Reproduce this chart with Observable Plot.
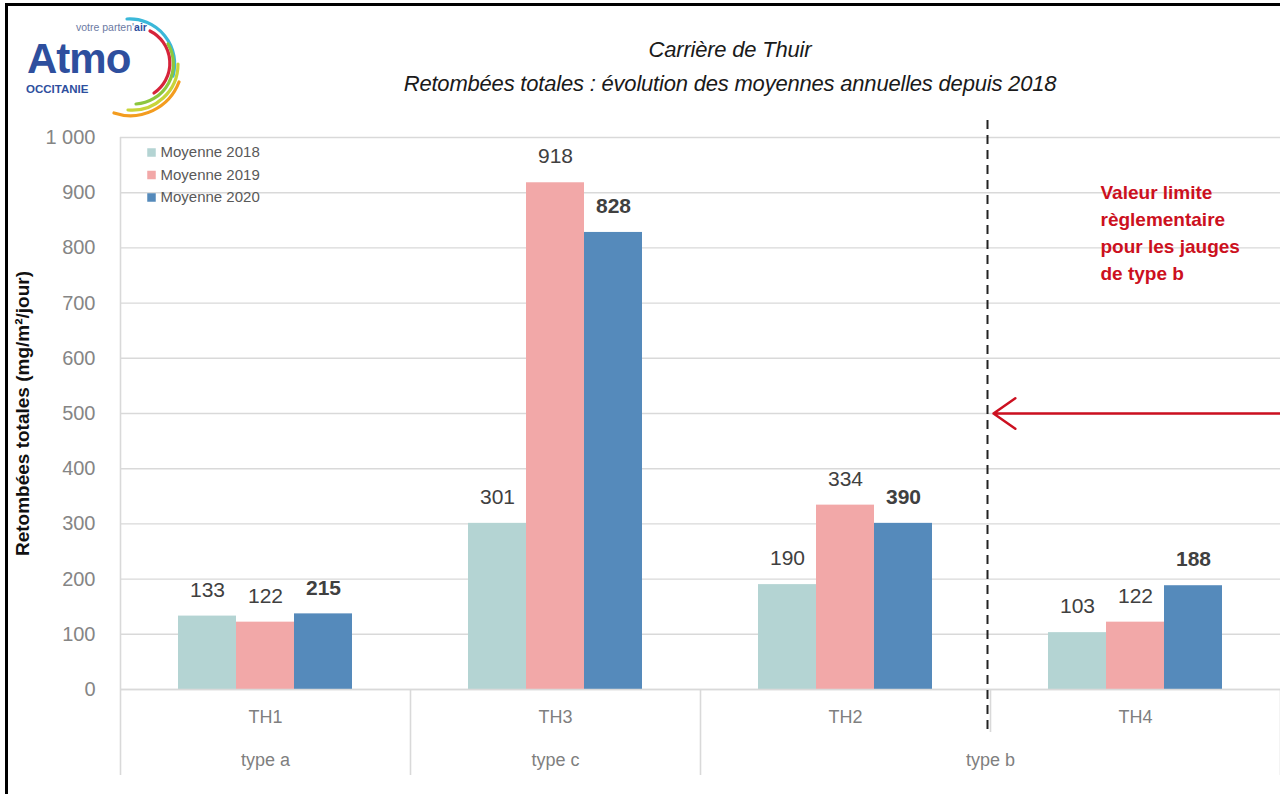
<!DOCTYPE html>
<html>
<head>
<meta charset="utf-8">
<script src="https://cdn.jsdelivr.net/npm/d3@7"></script>
<script src="https://cdn.jsdelivr.net/npm/@observablehq/plot@0.6"></script>
<style>
  html, body { margin: 0; padding: 0; background: #fff; }
  body { font-family: "Liberation Sans", Arial, sans-serif; }
  #page { position: relative; width: 1280px; height: 794px; overflow: hidden; background: #fff; }
  #border { position: absolute; left: 5px; top: 3px; width: 1300px; height: 820px;
            border-top: 3px solid #000; border-left: 3px solid #000; pointer-events: none; z-index: 5; }
  #logo { position: absolute; left: 0; top: 0; }
  #title { position: absolute; left: 190px; width: 1080px; top: 33px; text-align: center;
           font-style: italic; font-size: 22px; line-height: 34px; color: #1a1a1a; letter-spacing: -0.2px; }
  #chart { position: absolute; left: 0; top: 100px; }
</style>
</head>
<body>
<div id="page">
  <svg id="logo" width="200" height="118" xmlns="http://www.w3.org/2000/svg">
    <text x="76" y="31" font-size="10.5" fill="#6b7aa3" font-family="Liberation Sans, Arial, sans-serif">votre parten'<tspan font-weight="bold" fill="#2e4f9e">air</tspan></text>
    <text x="27" y="73" font-size="42" font-weight="bold" fill="#2e4f9e" font-family="Liberation Sans, Arial, sans-serif" letter-spacing="-1">Atmo</text>
    <text x="26" y="93" font-size="11.5" font-weight="bold" fill="#2e4f9e" font-family="Liberation Sans, Arial, sans-serif">OCCITANIE</text>
    <g fill="none" stroke-linecap="round" stroke-width="3.2">
      <path d="M 127 19 A 45 45 0 0 1 173 76" stroke="#3bb8d9"/>
      <path d="M 150 31 A 36 36 0 0 1 154 93" stroke="#d6243a"/>
      <path d="M 168 44 A 40 40 0 0 1 136 104" stroke="#8cc63e"/>
      <path d="M 178 64 A 46 46 0 0 1 128 110" stroke="#c8d43a"/>
      <path d="M 179 82 A 52 52 0 0 1 114 113" stroke="#f39c1f"/>
    </g>
  </svg>
  <div id="title">Carrière de Thuir<br>Retombées totales : évolution des moyennes annuelles depuis 2018</div>
  <div id="chart"></div>
  <div id="border"></div>
</div>
<script>
// ---- data ----
const stations = ["TH1", "TH3", "TH2", "TH4"];
const years = ["Moyenne 2018", "Moyenne 2019", "Moyenne 2020"];
const values2018 = [133, 301, 190, 103];
const values2019 = [122, 918, 334, 122];
const values2020 = [137, 828, 301, 188];
const labels2018 = ["133", "301", "190", "103"];
const labels2019 = ["122", "918", "334", "122"];
const labels2020 = ["215", "828", "390", "188"];
const typeLabels = ["type a", "type c", "type b"];
const typeFirstStation = [0, 1, 2];
const typeLastStation = [0, 1, 3];
const yTicks = [0, 100, 200, 300, 400, 500, 600, 700, 800, 900, 1000];
const limitValue = 500;
const limitStation = 3; // limit applies from TH4 boundary (type b)
const limitText = "Valeur limite\nrèglementaire\npour les jauges\nde type b";
const yTitle = "Retombées totales (mg/m²/jour)";

// ---- styles ----
const colors = ["#b4d4d3", "#f2a8a8", "#558abb"];
const grid = "#d9d9d9";
const font = "'Liberation Sans', Arial, sans-serif";

// ---- table ----
const series = [values2018, values2019, values2020];
const seriesLabels = [labels2018, labels2019, labels2020];
const bars = [];
stations.forEach((s, si) => years.forEach((yr, yi) => {
  bars.push({station: s, si, year: yr, yi, value: series[yi][si], label: seriesLabels[yi][si]});
}));
const nSlots = years.length + 2;
const bx1 = d => d.si + (d.yi + 1) / nSlots;
const bx2 = d => d.si + (d.yi + 2) / nSlots;
const bxm = d => d.si + (d.yi + 1.5) / nSlots;

const W = 1280, H = 694, MT = 37, MB = 105, ML = 120, MR = 0;
const frameH = H - MT - MB;

const legendMarks = [];
years.forEach((yr, i) => {
  legendMarks.push(Plot.dot([yr], {frameAnchor: "top-left", dx: 31, dy: 15 + 22.5 * i, symbol: "square", r: 4.8, fill: colors[i], stroke: null}));
  legendMarks.push(Plot.text([yr], {frameAnchor: "top-left", dx: 40, dy: 15 + 22.5 * i, text: d => d, textAnchor: "start", lineAnchor: "middle", fontSize: 15, fill: "#595959"}));
});

const chart = Plot.plot({
  width: W, height: H,
  marginTop: MT, marginBottom: MB, marginLeft: ML, marginRight: MR,
  style: {fontFamily: font, fontSize: "20px", color: "#858585", background: "transparent", overflow: "visible"},
  x: {domain: [0, stations.length], axis: null},
  y: {domain: [0, 1000], ticks: yTicks, tickSize: 0, tickPadding: 25, label: null,
      tickFormat: d => d3.format(",")(d).replace(/,/g, " ")},
  color: {domain: years, range: colors},
  marks: [
    Plot.ruleY(yTicks, {stroke: grid, strokeWidth: 1.4}),
    // axis box separators
    Plot.ruleX([0], {stroke: grid, strokeWidth: 1.6, insetBottom: -86}),
    Plot.ruleX([1, 2, stations.length], {stroke: grid, strokeWidth: 1.6, insetTop: frameH, insetBottom: -86}),
    Plot.ruleX([limitStation], {stroke: grid, strokeWidth: 1.6, insetTop: frameH, insetBottom: -43}),
    // bars
    Plot.rectY(bars, {x1: bx1, x2: bx2, y: "value", fill: "year"}),
    Plot.ruleY([0], {stroke: grid, strokeWidth: 1.6}),
    // value labels
    Plot.text(bars.filter(d => d.yi < 2), {x: bxm, y: "value", text: "label", dy: -26, lineAnchor: "middle", fontSize: 21, fill: "#404040"}),
    Plot.text(bars.filter(d => d.yi === 2), {x: bxm, y: "value", text: "label", dy: -26, lineAnchor: "middle", fontSize: 21, fontWeight: "bold", fill: "#404040"}),
    // category labels
    Plot.text(stations, {x: (d, i) => i + 0.5, frameAnchor: "bottom", dy: 28, text: d => d, lineAnchor: "middle", fontSize: 18, fill: "#7f7f7f"}),
    Plot.text(typeLabels, {x: (d, i) => (typeFirstStation[i] + typeLastStation[i] + 1) / 2, frameAnchor: "bottom", dy: 71, text: d => d, lineAnchor: "middle", fontSize: 18, fill: "#7f7f7f"}),
    // dashed separator for type b limit
    Plot.ruleX([limitStation], {stroke: "#222", strokeWidth: 2, strokeDasharray: "9,6", dx: -3, insetTop: -17, insetBottom: -46}),
    // limit arrow
    Plot.arrow([limitValue], {x1: stations.length, x2: limitStation, y1: d => d, y2: d => d, stroke: "#cc1020", strokeWidth: 2.5, headLength: 16, headAngle: 70, insetEnd: 3}),
    Plot.text([limitText], {frameAnchor: "top-right", dx: -180, dy: 42, text: d => d, textAnchor: "start", lineAnchor: "top", lineHeight: 1.42, fontSize: 19, fontWeight: "bold", fill: "#cc1020"}),
    // y title
    Plot.text([yTitle], {frameAnchor: "left", dx: -98, rotate: -90, text: d => d, textAnchor: "middle", fontSize: 19, fontWeight: "bold", fill: "#111"}),
    ...legendMarks
  ]
});
document.getElementById("chart").appendChild(chart);
</script>
</body>
</html>
